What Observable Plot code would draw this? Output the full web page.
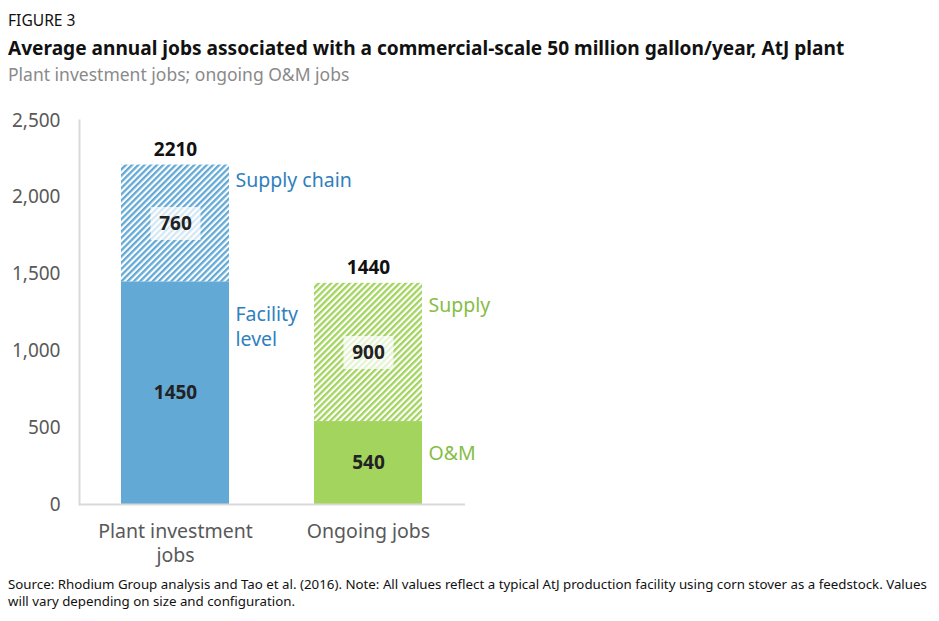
<!DOCTYPE html>
<html><head><meta charset="utf-8">
<script src="https://cdn.jsdelivr.net/npm/d3@7"></script>
<script src="https://cdn.jsdelivr.net/npm/@observablehq/plot@0.6"></script>
<style>
body{margin:0;background:#fff;width:939px;height:621px;position:relative;overflow:hidden;font-family:"Noto Sans",sans-serif;}
#fig{position:absolute;left:8px;top:9px;font-size:15.6px;color:#111;}
#title{position:absolute;left:8px;top:35px;font-size:19.1px;font-weight:700;color:#111;white-space:nowrap;}
#sub{position:absolute;left:8px;top:62px;font-size:17.5px;color:#8a8a8a;white-space:nowrap;}
#chart{position:absolute;left:0;top:90px;}
#note{position:absolute;left:8px;top:576px;white-space:nowrap;font-family:"Noto Sans",sans-serif;font-size:13.3px;line-height:17px;color:#111;}
#note div{height:17px;}
</style></head><body>
<div id="fig">FIGURE 3</div>
<div id="title">Average annual jobs associated with a commercial-scale 50 million gallon/year, AtJ plant</div>
<div id="sub">Plant investment jobs; ongoing O&amp;M jobs</div>
<div id="chart"></div>
<div id="note"><div>Source: Rhodium Group analysis and Tao et al. (2016). Note: All values reflect a typical AtJ production facility using corn stover as a feedstock. Values</div><div>will vary depending on size and configuration.</div></div>
<script>
const categories = ["Plant investment jobs", "Ongoing jobs"];
const categoryLabels = ["Plant investment\njobs", "Ongoing jobs"];
const totals = [2210, 1440];
const segmentCategory = ["Plant investment jobs", "Plant investment jobs", "Ongoing jobs", "Ongoing jobs"];
const segmentNames = ["Facility\nlevel", "Supply chain", "O&M", "Supply"];
const segmentValues = [1450, 760, 540, 900];
const segmentHatched = [false, true, false, true];
const yTicks = [0, 500, 1000, 1500, 2000, 2500];

// styling
const palette = {
  "Plant investment jobs": {solid: "#63a9d6", hatch: "url(#hatch-blue)", text: "#2f80bd"},
  "Ongoing jobs": {solid: "#a2d45e", hatch: "url(#hatch-green)", text: "#86bd45"}
};
const labelDy = [44, 14, 31, 21];

const rows = segmentNames.map((name, i) => ({
  category: segmentCategory[i], name, value: segmentValues[i], hatched: segmentHatched[i],
  fill: segmentHatched[i] ? palette[segmentCategory[i]].hatch : palette[segmentCategory[i]].solid,
  boxFill: segmentHatched[i] ? "rgba(255,255,255,0.72)" : "none"
}));
const totalRows = categories.map((c, i) => ({category: c, total: totals[i]}));
const labelOf = Object.fromEntries(categories.map((c, i) => [c, categoryLabels[i]]));

const box = {draw(ctx) { ctx.moveTo(-25, -16.5); ctx.lineTo(25, -16.5); ctx.lineTo(25, 16.5); ctx.lineTo(-25, 16.5); ctx.closePath(); }};

const font = "'Noto Sans', sans-serif";
const chart = Plot.plot({
  width: 939, height: 480,
  marginLeft: 79, marginRight: 474, marginTop: 30, marginBottom: 66,
  style: {fontFamily: font, color: "#595959", background: "transparent", overflow: "visible"},
  x: {domain: categories, paddingInner: 0.44, paddingOuter: 0.22, label: null},
  y: {domain: [0, 2500], label: null},
  color: {type: "identity"},
  marks: [
    Plot.barY(rows, Plot.stackY({x: "category", y: "value", fill: "fill"})),
    Plot.dot(rows, Plot.stackY({x: "category", y: "value", fill: "boxFill", symbol: box, r: 5, stroke: null})),
    Plot.text(rows, Plot.stackY({x: "category", y: "value", text: d => String(d.value), fontSize: 19, fontWeight: 700, fill: "#222"})),
    Plot.text(totalRows, {x: "category", y: "total", text: d => String(d.total), dy: -15, fontSize: 19, fontWeight: 700, fill: "#111"}),
    ...rows.map((r, i) => Plot.text(rows, Plot.stackY2({x: "category", y: "value", text: d => (d === r ? d.name : ""), dx: 60, dy: labelDy[i], textAnchor: "start", fontSize: 19.5, lineHeight: 1.25, fill: palette[r.category].text}))),
    Plot.ruleY([0], {stroke: "#d9d9d9", strokeWidth: 2}),
    Plot.frame({anchor: "left", stroke: "#d9d9d9", strokeWidth: 2}),
    Plot.axisY({ticks: yTicks, tickSize: 0, tickPadding: 19, tickFormat: d3.format(","), fontSize: 19, label: null}),
    Plot.axisX({tickSize: 0, tickPadding: 16, tickFormat: d => labelOf[d], fontSize: 19.5, lineHeight: 1.25, label: null})
  ]
});

const defs = d3.create("svg:defs");
[["hatch-blue", "#63a9d6"], ["hatch-green", "#a2d45e"]].forEach(([id, c]) => {
  const p = defs.append("pattern").attr("id", id).attr("patternUnits", "userSpaceOnUse")
    .attr("width", 4.4).attr("height", 10).attr("patternTransform", "rotate(45)");
  p.append("rect").attr("width", 4.4).attr("height", 10).attr("fill", "#fff");
  p.append("rect").attr("width", 2.3).attr("height", 10).attr("fill", c);
});
chart.insertBefore(defs.node(), chart.firstChild);
document.getElementById("chart").appendChild(chart);
</script>
</body></html>
